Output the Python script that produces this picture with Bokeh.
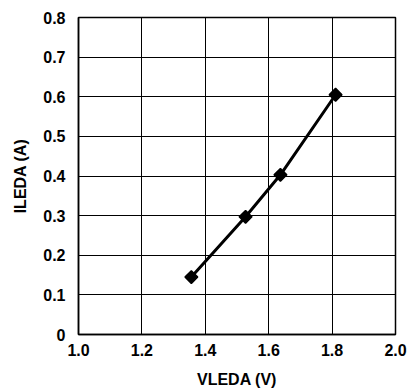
import math
from bokeh.plotting import figure
from bokeh.models import Range1d, FixedTicker
from bokeh.embed import file_html
from bokeh.resources import INLINE

vleda = [1.356, 1.527, 1.637, 1.811]
ileda = [0.145, 0.297, 0.403, 0.605]
x_ticks = [1.0, 1.2, 1.4, 1.6, 1.8, 2.0]
y_ticks = [0, 0.1, 0.2, 0.3, 0.4, 0.5, 0.6, 0.7, 0.8]
x_labels = {1.0: "1.0", 1.2: "1.2", 1.4: "1.4", 1.6: "1.6", 1.8: "1.8", 2.0: "2.0"}
y_labels = {0: "0", 0.1: "0.1", 0.2: "0.2", 0.3: "0.3", 0.4: "0.4",
            0.5: "0.5", 0.6: "0.6", 0.7: "0.7", 0.8: "0.8"}

p = figure(width=408, height=392, output_backend="svg", toolbar_location=None,
           x_range=Range1d(1.0, 2.0), y_range=Range1d(0, 0.8),
           min_border_left=78, min_border_right=13, min_border_top=17,
           min_border_bottom=58)
p.background_fill_color = "white"
p.border_fill_color = "white"
p.outline_line_color = "black"
p.outline_line_width = 1.5

font = "Liberation Sans"
for ax in (p.xaxis[0], p.yaxis[0]):
    ax.axis_line_color = "black"
    ax.axis_line_width = 1.5
    ax.major_tick_line_color = None
    ax.minor_tick_line_color = None
    ax.major_label_text_font = font
    ax.major_label_text_font_style = "bold"
    ax.major_label_text_font_size = "16px"
    ax.major_label_text_color = "black"
    ax.axis_label_text_font = font
    ax.axis_label_text_font_style = "bold"
    ax.axis_label_text_font_size = "16px"
    ax.axis_label_text_color = "black"

p.xaxis[0].ticker = FixedTicker(ticks=x_ticks)
p.yaxis[0].ticker = FixedTicker(ticks=y_ticks)
p.xaxis[0].major_label_overrides = x_labels
p.yaxis[0].major_label_overrides = y_labels
p.xaxis[0].major_label_standoff = 3
p.yaxis[0].major_label_standoff = 7
p.xaxis[0].axis_label = "VLEDA (V)"
p.yaxis[0].axis_label = "ILEDA (A)"
p.xaxis[0].axis_label_standoff = 12
p.yaxis[0].axis_label_standoff = 11

for g in (p.xgrid[0], p.ygrid[0]):
    g.grid_line_color = "black"
    g.grid_line_width = 1
    g.grid_line_alpha = 1
p.xgrid[0].ticker = FixedTicker(ticks=x_ticks)
p.ygrid[0].ticker = FixedTicker(ticks=y_ticks)

p.line(vleda, ileda, line_color="black", line_width=3)
p.scatter(vleda, ileda, marker="square", size=9, angle=math.pi / 4,
          fill_color="black", line_color="black", line_width=1.5)

open("out.html", "w").write(file_html(p, INLINE))
